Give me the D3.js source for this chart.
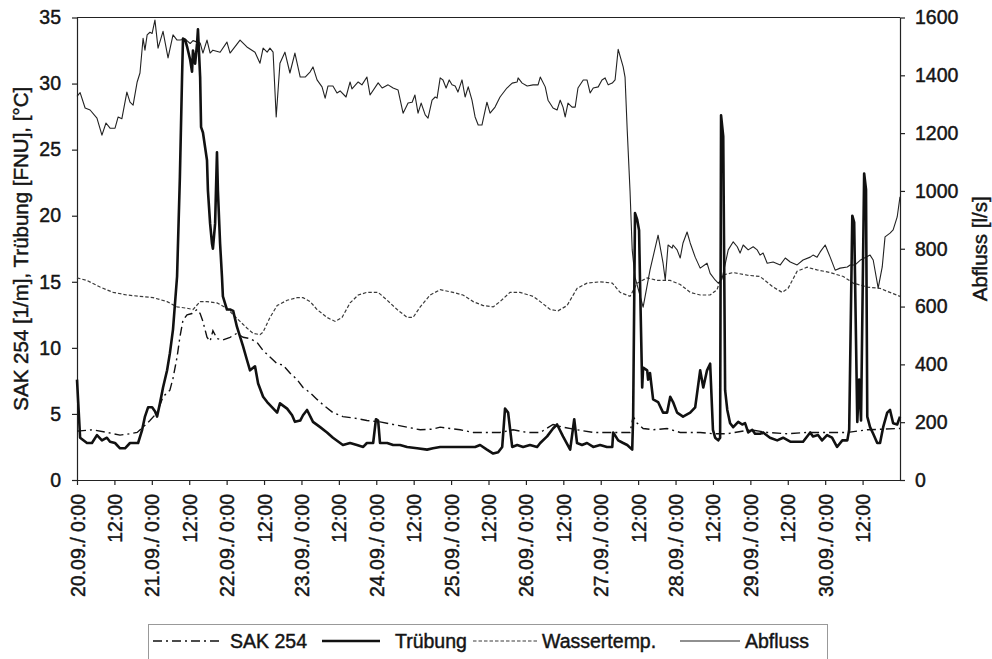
<!DOCTYPE html>
<html>
<head>
<meta charset="utf-8">
<script src="https://cdn.jsdelivr.net/npm/d3@7"></script>
<style>
  body { margin: 0; background: #fff; }
  svg { display: block; font-family: "Liberation Sans", Arial, sans-serif; }
  svg text { fill: #151515; stroke: #151515; stroke-width: 0.45px; }
  .axis text { font-size: 19.5px; }
  .axis path, .axis line { stroke: #222; stroke-width: 1.2; }
</style>
</head>
<body>
<div id="chart"></div>
<script>
// time in hours since 20.09. 0:00, value
var abfluss = [[0,1327],[1,1340],[2.6,1287],[4.2,1280],[6.4,1252],[8,1193],[9.3,1235],[10.6,1217],[12.2,1217],[13.2,1256],[14.4,1250],[16,1342],[17,1307],[18,1297],[19.3,1377],[20.2,1408],[21.2,1528],[21.8,1487],[22.5,1540],[23.4,1549],[24.1,1545],[25,1591],[26,1494],[27.6,1552],[29.2,1460],[30.8,1540],[32.1,1522],[33,1522],[34.7,1525],[36.3,1510],[37.2,1520],[39.5,1512],[40.4,1477],[41.7,1522],[42.7,1477],[43.6,1487],[45.9,1480],[48.1,1515],[49.1,1477],[52.3,1522],[54.5,1498],[57.1,1480],[58.7,1442],[59.7,1494],[61,1480],[61.9,1494],[62.9,1480],[63.9,1256],[65.1,1442],[66.7,1480],[68.3,1408],[69.9,1477],[71.6,1394],[73.2,1394],[74.8,1412],[75.7,1429],[77,1384],[78.6,1360],[79.6,1321],[80.5,1363],[82.1,1363],[83.4,1339],[84.4,1346],[86.3,1325],[87.6,1377],[88.2,1353],[90.2,1377],[91.4,1367],[93,1394],[94,1332],[96.6,1374],[97.9,1356],[99.8,1367],[101.4,1356],[103,1349],[104.6,1269],[106.2,1304],[107.5,1307],[108.4,1332],[109.4,1269],[110.4,1304],[111.7,1263],[112.6,1252],[113.9,1314],[114.9,1325],[115.5,1321],[116.5,1391],[117.4,1384],[118.4,1356],[119.4,1384],[120.3,1367],[121.3,1363],[122.2,1342],[123.5,1384],[124.5,1325],[125.5,1360],[126.7,1314],[127.7,1256],[128.7,1228],[129.9,1228],[131.5,1307],[132.5,1269],[134.1,1290],[135.7,1325],[137.9,1356],[139.6,1373],[141.2,1377],[141.5,1391],[142.8,1373],[144.4,1363],[146.3,1367],[147.9,1367],[148.6,1394],[150.2,1360],[151.1,1314],[152.7,1287],[154,1280],[155,1314],[155.9,1290],[156.6,1256],[157.5,1304],[158.8,1290],[159.8,1290],[160.7,1356],[162.4,1384],[163.6,1384],[164.6,1339],[165.6,1356],[167.2,1360],[168.4,1384],[169.4,1391],[170.4,1367],[171.7,1373],[172.6,1384],[173.6,1490],[175.2,1429],[175.8,1394],[176.5,1210],[177.4,1000],[178.1,796],[179,702],[181.6,598],[183.8,726],[186.4,847],[188,750],[188.7,692],[189.6,813],[190.9,802],[191.2,813],[192.5,796],[193.5,768],[194.4,820],[195.7,858],[196.7,820],[198.3,771],[199.9,733],[202.1,750],[203.1,715],[204.7,692],[205.7,681],[206.9,695],[208.9,796],[210.5,824],[211.8,807],[212.7,785],[213.7,813],[215.3,796],[216.9,807],[218.2,796],[219.1,778],[220.1,785],[221.4,750],[223.3,754],[225.6,744],[227.2,768],[228.8,754],[231,744],[232.9,761],[235.2,771],[236.1,778],[237.4,771],[238.4,789],[240,813],[241.6,771],[243.2,726],[244.8,733],[247.1,737],[248,744],[249.6,744],[251.2,760],[254.4,778],[255.4,761],[257,664],[258.3,737],[259.2,841],[260.8,854],[261.8,865],[263.1,910],[264,980]]

var truebung = [[0,7.6],[1,3.2],[3.2,2.8],[4.8,2.8],[6.4,3.4],[8,3.0],[9.6,3.2],[10.6,2.9],[12.2,2.8],[13.8,2.4],[15.4,2.4],[17,2.8],[18.6,2.8],[19.6,2.8],[20.9,3.8],[21.8,4.8],[22.8,5.5],[24.1,5.5],[25,5.2],[25.7,4.8],[26.6,5.8],[27.6,7.0],[28.9,8.3],[29.8,9.6],[30.8,11.4],[32.1,15.4],[33,22.9],[33.7,30.5],[34,33.4],[34.7,33.3],[35.3,32.8],[36.3,31.8],[36.9,30.9],[37.2,32.5],[37.9,31.5],[38.5,33.0],[38.8,34.1],[39.5,30.5],[39.8,26.7],[40.4,26.3],[41.7,24.2],[42,21.9],[42.7,19.4],[43.3,17.9],[43.6,17.5],[44.3,19.4],[44.9,24.8],[45.2,21.9],[45.9,17.9],[46.5,15.4],[46.8,13.9],[48.1,12.9],[49.1,12.9],[50.1,12.8],[51.3,11.6],[53.3,10.1],[54.5,9.1],[55.5,8.3],[57.1,8.6],[58.1,7.3],[59.7,6.3],[61,5.9],[62.6,5.5],[64.2,5.1],[65.1,5.8],[67.4,5.4],[69,4.9],[69.9,4.4],[71.6,4.5],[72.5,4.9],[73.8,5.3],[75.7,4.4],[78,4.0],[80.2,3.6],[82.1,3.2],[85.3,2.65],[87.6,2.8],[89.8,2.65],[91.8,2.5],[93,2.8],[95,2.8],[95.9,4.6],[96.6,4.5],[97.2,2.8],[99.5,2.8],[101.4,2.65],[103.6,2.65],[105.9,2.5],[109.1,2.4],[112.3,2.3],[114.2,2.4],[116.5,2.5],[118.7,2.5],[121.9,2.5],[125.1,2.5],[127.7,2.5],[129.3,2.65],[131.5,2.3],[133.5,2.0],[135.1,2.1],[136.4,2.5],[137.3,5.4],[138.3,5.1],[139.6,2.5],[141.2,2.65],[143.1,2.5],[145.3,2.65],[147.6,2.5],[148.6,2.8],[150.8,3.3],[152.7,3.9],[154,4.2],[155.9,3.3],[158.2,2.3],[159.5,4.6],[160.4,2.8],[162,2.65],[163.6,2.8],[165.6,2.5],[167.8,2.65],[170,2.5],[171.7,2.5],[172,3.6],[173.6,3.0],[175.2,2.8],[176.5,2.65],[178.1,2.3],[178.4,4.8],[179,20.2],[179.7,19.7],[180.3,18.9],[180.6,15.1],[181.3,7.0],[181.6,8.5],[182.9,8.3],[183.2,7.6],[183.8,8.1],[184.8,6.1],[186.4,5.9],[188,5.1],[189.3,5.1],[190.3,6.3],[191.2,5.9],[192.5,5.1],[194.4,4.8],[196.7,5.1],[198.3,5.5],[199.9,8.3],[200.9,7.0],[202.1,8.3],[203.1,8.8],[204,3.8],[204.7,3.2],[205.7,3.0],[206.3,3.2],[206.6,27.6],[207.3,26],[207.9,6.8],[208.6,5.3],[209.5,4.3],[210.5,4.0],[212.1,4.4],[213.4,4.2],[214.3,4.3],[215.3,3.6],[216.6,3.8],[217.5,3.5],[219.1,3.5],[220.1,3.6],[222.3,3.2],[224.6,3.0],[226.5,3.2],[228.8,2.9],[231,2.9],[232.9,2.9],[235.2,3.6],[236.1,3.3],[237.7,3.4],[239,3.0],[240.6,3.4],[242.2,3.2],[243.8,2.5],[245.5,3.0],[247.1,3.0],[247.7,3.8],[248.7,20.0],[249.3,19.5],[250.3,4.4],[250.9,7.6],[251.5,4.5],[252.5,23.2],[253.1,22],[253.5,4.8],[254.4,4.0],[255.4,3.5],[256.7,2.8],[257.6,2.8],[258.6,4.0],[259.9,5.1],[260.8,5.3],[261.8,4.3],[263.1,4.2],[264,4.8]]

var sak254 = [[0,3.7],[5.1,3.8],[9.6,3.6],[13.8,3.4],[17,3.5],[19.3,3.6],[21.2,4.0],[23.4,4.5],[25.7,5.1],[27.6,6.3],[29.8,6.8],[30.8,7.7],[32.1,9.3],[33,10.8],[34,12.1],[35.3,12.5],[36.9,12.6],[38.5,12.9],[39.5,12.6],[40.4,12.0],[41.7,10.8],[42.7,10.5],[43.6,11.3],[44.9,10.7],[46.8,10.6],[49.1,10.8],[51.3,11.1],[53.3,10.8],[55.5,10.7],[57.8,10.4],[59.7,9.8],[61.9,9.3],[64.2,8.8],[66.1,8.7],[68.3,8.1],[70.6,7.6],[72.5,7.0],[74.8,6.6],[77,6.1],[78.9,5.7],[82.1,5.1],[85.3,4.8],[88.6,4.7],[93,4.5],[97.2,4.4],[101.4,4.2],[105.9,4.0],[110.1,3.8],[114.2,3.85],[116.5,4.0],[119.7,3.9],[122.9,3.8],[127.1,3.6],[131.5,3.6],[135.7,3.6],[139.9,3.8],[144.4,3.6],[148.6,3.6],[152.7,4.2],[155.9,4.0],[160.4,3.8],[165.6,3.6],[171,3.6],[177.4,3.6],[178.4,4.8],[179.7,4.3],[181.6,3.9],[184.8,3.8],[189.3,3.9],[193.5,3.6],[199.9,3.6],[204,3.5],[208.6,3.5],[216,3.8],[221.4,3.6],[227.8,3.5],[234.2,3.6],[240.6,3.6],[247.1,3.6],[253.5,3.8],[264,3.9]]

var wassertemp = [[0,15.3],[3.2,15.1],[7.4,14.6],[11.6,14.2],[16,14.0],[20.2,13.9],[24.4,13.8],[28.9,13.5],[32.1,13.1],[35.3,13.0],[37.2,12.9],[39.5,13.5],[41.7,13.5],[44.9,13.4],[48.1,13.0],[50.1,12.5],[52.3,12.0],[54.5,11.5],[56.5,11.1],[58.7,11.0],[59.7,11.2],[61.9,12.3],[64.2,13.2],[67.4,13.6],[70.6,13.8],[72.5,13.8],[74.8,13.5],[77,12.9],[80.2,12.3],[82.8,12.0],[85,12.3],[87.6,13.4],[90.2,14.0],[93,14.2],[96.6,14.2],[99.5,13.6],[102.7,12.9],[105.9,12.3],[107.8,12.3],[110.1,13.1],[113.3,14.0],[116.5,14.4],[120.6,14.2],[123.8,14.0],[127.1,13.5],[130.3,13.2],[133.5,13.1],[135.7,13.5],[138.9,14.2],[142.1,14.2],[146.3,13.9],[148.6,13.5],[151.8,12.9],[154.3,12.8],[157.2,13.2],[160.4,14.5],[163.6,14.9],[167.8,15.0],[171.7,14.9],[174.2,14.2],[177.4,13.9],[179.7,14.9],[182.9,15.3],[186.1,15.1],[190.3,15.1],[193.5,14.8],[196.7,14.2],[199.9,14.0],[203.1,14.0],[205.3,14.4],[206.9,15.5],[210.5,15.7],[215,15.5],[219.1,15.4],[223.3,14.6],[226.2,14.2],[228.1,14.5],[231,15.8],[234.2,16.1],[237.4,15.9],[241.6,15.7],[245.8,15.4],[249,14.9],[253.5,14.6],[257.6,14.5],[261.8,14.1],[264,13.9]]

var startDay = 20
var hourTicks = d3.range(0, 253, 12)
var leftTicks = d3.range(0, 36, 5)
var rightTicks = d3.range(0, 1601, 200)
var leftTitle = 'SAK 254 [1/m], Trübung [FNU], [°C]'
var rightTitle = 'Abfluss [l/s]'
var legendNames = ['SAK 254', 'Trübung', 'Wassertemp.', 'Abfluss']

var width = 992, height = 659
var m = {left:77, right:92, top:17.5, bottom:179}

var svg = d3.select('#chart').append('svg')
    .attr('width', width)
    .attr('height', height)

var x = d3.scaleLinear().domain([0, 264]).range([m.left, width - m.right])
var yL = d3.scaleLinear().domain([0, 35]).range([height - m.bottom, m.top])
var yR = d3.scaleLinear().domain([0, 1600]).range([height - m.bottom, m.top])

// frame top
svg.append('line')
  .attr('x1', x(0)).attr('x2', x(264))
  .attr('y1', yL(35)).attr('y2', yL(35))
  .attr('stroke', '#222').attr('stroke-width', 1.2)

var fmt = h => h % 24 === 0 ? (startDay + h / 24) + '.09./ 0:00' : '12:00'

var gx = svg.append('g').attr('class', 'axis')
  .attr('transform', `translate(0,${yL(0)})`)
  .call(d3.axisBottom(x).tickValues(hourTicks).tickFormat(fmt).tickSize(5).tickSizeOuter(0))
gx.selectAll('text')
  .attr('transform', 'rotate(-90)')
  .attr('text-anchor', 'end')
  .attr('x', -14).attr('y', 0).attr('dy', '0.36em')

svg.append('g').attr('class', 'axis')
  .attr('transform', `translate(${m.left},0)`)
  .call(d3.axisLeft(yL).tickValues(leftTicks).tickSize(5).tickSizeOuter(0).tickPadding(11))

svg.append('g').attr('class', 'axis')
  .attr('transform', `translate(${width - m.right},0)`)
  .call(d3.axisRight(yR).tickValues(rightTicks).tickFormat(d3.format('d')).tickSize(5).tickSizeOuter(0).tickPadding(10))

svg.append('text')
  .attr('transform', `translate(21,${(yL(0) + yL(35)) / 2}) rotate(-90)`)
  .attr('text-anchor', 'middle').attr('dy', '0.35em')
  .style('font-size', '20.5px')
  .text(leftTitle)

svg.append('text')
  .attr('transform', `translate(980,${(yL(0) + yL(35)) / 2}) rotate(-90)`)
  .attr('text-anchor', 'middle').attr('dy', '0.35em')
  .style('font-size', '20.5px')
  .text(rightTitle)

var lineL = d3.line().x(d => x(d[0])).y(d => yL(d[1]))
var lineR = d3.line().x(d => x(d[0])).y(d => yR(d[1]))

var styles = [
  {dash:'3.5,2', w:1.2, c:'#3a3a3a'},
  {dash:'9,4,2,4', w:1.4, c:'#111'},
  {dash:null, w:2.6, c:'#111'},
  {dash:null, w:1.1, c:'#222'}
]

svg.append('path').datum(wassertemp).attr('d', lineL)
  .attr('fill', 'none').attr('stroke', styles[0].c).attr('stroke-width', styles[0].w)
  .attr('stroke-dasharray', styles[0].dash)
svg.append('path').datum(sak254).attr('d', lineL)
  .attr('fill', 'none').attr('stroke', styles[1].c).attr('stroke-width', styles[1].w)
  .attr('stroke-dasharray', styles[1].dash)
svg.append('path').datum(abfluss).attr('d', lineR)
  .attr('fill', 'none').attr('stroke', styles[3].c).attr('stroke-width', styles[3].w)
  .attr('stroke-linejoin', 'round')
svg.append('path').datum(truebung).attr('d', lineL)
  .attr('fill', 'none').attr('stroke', styles[2].c).attr('stroke-width', styles[2].w)
  .attr('stroke-linejoin', 'round')

// legend
var lg = svg.append('g')
lg.append('rect')
  .attr('x', 148.5).attr('y', 624.5).attr('width', 679).attr('height', 50)
  .attr('fill', 'none').attr('stroke', '#999').attr('stroke-width', 1)

var items = [
  {name:legendNames[0], s:styles[1], x0:153, x1:220, tx:230},
  {name:legendNames[1], s:styles[2], x0:322, x1:380, tx:395},
  {name:legendNames[2], s:styles[0], x0:473, x1:537, tx:542},
  {name:legendNames[3], s:styles[3], x0:680, x1:740, tx:745}
]
items.forEach(it => {
  lg.append('line')
    .attr('x1', it.x0).attr('x2', it.x1).attr('y1', 641).attr('y2', 641)
    .attr('stroke', it.s.c).attr('stroke-width', it.s.w)
    .attr('stroke-dasharray', it.s.dash)
  lg.append('text')
    .attr('x', it.tx).attr('y', 648)
    .style('font-size', '19.5px')
    .text(it.name)
})
</script>
</body>
</html>
